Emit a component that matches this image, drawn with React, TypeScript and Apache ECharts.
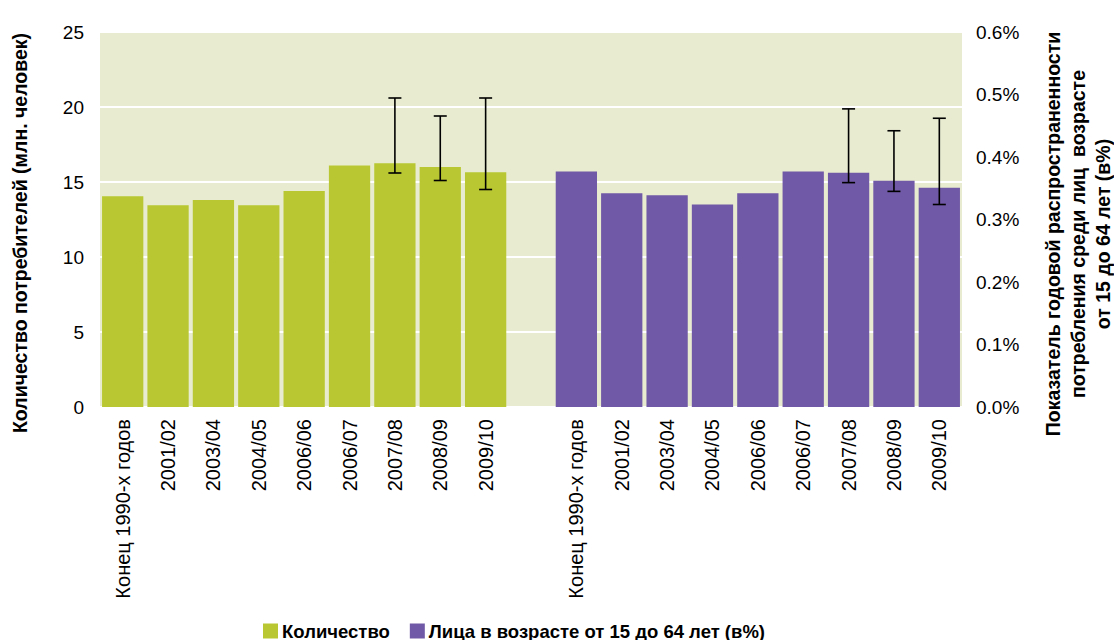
import React, { useEffect, useRef } from "react";
import * as echarts from "echarts";

const periods = [
  "Конец 1990-х годов",
  "2001/02",
  "2003/04",
  "2004/05",
  "2006/06",
  "2006/07",
  "2007/08",
  "2008/09",
  "2009/10",
];
// Number of users (millions)
const countValues = [14.05, 13.45, 13.8, 13.45, 14.4, 16.1, 16.25, 16.0, 15.65];
// Prevalence among 15-64 (%)
const prevalenceValues = [0.377, 0.342, 0.339, 0.324, 0.342, 0.377, 0.375, 0.362, 0.351];
// Error ranges: [period index, low, high]
const countErrors = [
  [6, 15.6, 20.6],
  [7, 15.1, 19.4],
  [8, 14.5, 20.6],
];
const prevalenceErrors = [
  [6, 0.359, 0.477],
  [7, 0.345, 0.442],
  [8, 0.324, 0.462],
];
const leftTicks = { min: 0, max: 25, interval: 5 };
const rightTicks = { min: 0, max: 0.6, interval: 0.1 };

const GREEN = "#b9c832";
const PURPLE = "#7059a6";
const BG = "#e8ebd0";
const FONT = "'Liberation Sans', Arial, sans-serif";

const categories = [...periods, "", ...periods];
const offset = periods.length + 1;
const greenData = categories.map((_, i) => (i < periods.length ? countValues[i] : null));
const purpleData = categories.map((_, i) => (i >= offset ? prevalenceValues[i - offset] : null));
const greenErr = countErrors.map((e) => [e[0], e[1], e[2]]);
const purpleErr = prevalenceErrors.map((e) => [e[0] + offset, e[1], e[2]]);

const errRender = (params: any, api: any) => {
  const x = api.value(0);
  const lo = api.coord([x, api.value(1)]);
  const hi = api.coord([x, api.value(2)]);
  const half = 6.5;
  const style = { stroke: "#000", lineWidth: 1.6 };
  return {
    type: "group",
    children: [
      { type: "line", shape: { x1: hi[0], y1: hi[1], x2: lo[0], y2: lo[1] }, style },
      { type: "line", shape: { x1: hi[0] - half, y1: hi[1], x2: hi[0] + half, y2: hi[1] }, style },
      { type: "line", shape: { x1: lo[0] - half, y1: lo[1], x2: lo[0] + half, y2: lo[1] }, style },
    ],
  };
};

export default function App() {
  const ref = useRef<HTMLDivElement>(null);
  useEffect(() => {
    if (!ref.current) return;
    const chart = echarts.init(ref.current, null, { renderer: "svg" });
    chart.setOption({
      animation: false,
      backgroundColor: "#fff",
      textStyle: { fontFamily: FONT },
      grid: {
        left: 100,
        right: 152,
        top: 32,
        bottom: 233,
        show: true,
        backgroundColor: BG,
        borderWidth: 0,
      },
      legend: {
        data: ["Количество", "Лица в возрасте от 15 до 64 лет (в%)"],
        top: 616,
        left: 258,
        icon: "rect",
        itemWidth: 15,
        itemHeight: 15,
        itemGap: 20,
        textStyle: { fontFamily: FONT, fontWeight: "bold", fontSize: 18.5, color: "#000", lineHeight: 20, padding: [0, 0, 0, -1] },
      },
      xAxis: {
        type: "category",
        data: categories,
        axisLine: { show: false },
        axisTick: { show: false },
        axisLabel: {
          interval: 0,
          rotate: 90,
          fontSize: 20,
          color: "#000",
          fontFamily: FONT,
          margin: 12,
        },
      },
      yAxis: [
        {
          type: "value",
          ...leftTicks,
          axisLine: { show: false },
          axisTick: { show: false },
          axisLabel: { fontSize: 19, color: "#000", fontFamily: FONT, margin: 16 },
          splitLine: { show: true, lineStyle: { color: "#ffffff", width: 2 } },
        },
        {
          type: "value",
          ...rightTicks,
          position: "right",
          axisLine: { show: false },
          axisTick: { show: false },
          axisLabel: {
            fontSize: 19,
            color: "#000",
            fontFamily: FONT,
            margin: 14,
            formatter: (v: number) => v.toFixed(1) + "%",
          },
          splitLine: { show: false },
        },
      ],
      series: [
        {
          name: "Количество",
          type: "bar",
          data: greenData,
          yAxisIndex: 0,
          itemStyle: { color: GREEN },
          barGap: "-100%",
          barCategoryGap: "9%",
        },
        {
          name: "Лица в возрасте от 15 до 64 лет (в%)",
          type: "bar",
          data: purpleData,
          yAxisIndex: 1,
          itemStyle: { color: PURPLE },
          barGap: "-100%",
          barCategoryGap: "9%",
        },
        {
          name: "errCount",
          type: "custom",
          yAxisIndex: 0,
          data: greenErr,
          encode: { x: 0, y: [1, 2] },
          renderItem: errRender,
          z: 10,
        },
        {
          name: "errPrev",
          type: "custom",
          yAxisIndex: 1,
          data: purpleErr,
          encode: { x: 0, y: [1, 2] },
          renderItem: errRender,
          z: 10,
        },
      ],
      graphic: [
        {
          type: "text",
          x: 20,
          y: 233,
          rotation: Math.PI / 2,
          style: {
            text: "Количество потребителей (млн. человек)",
            fontFamily: FONT,
            fontWeight: "bold",
            fontSize: 19.5,
            fill: "#000",
            align: "center",
            verticalAlign: "middle",
          },
        },
        {
          type: "text",
          x: 1078,
          y: 234,
          rotation: Math.PI / 2,
          style: {
            text:
              "Показатель годовой распространенности\nпотребления среди лиц  возрасте\nот 15 до 64 лет (в%)",
            fontFamily: FONT,
            fontWeight: "bold",
            fontSize: 19.5,
            lineHeight: 25,
            fill: "#000",
            align: "center",
            verticalAlign: "middle",
          },
        },
      ],
    });
    return () => chart.dispose();
  }, []);
  return (
    <div
      ref={ref}
      style={{ position: "fixed", left: 0, top: 0, width: 1114, height: 640 }}
    />
  );
}
